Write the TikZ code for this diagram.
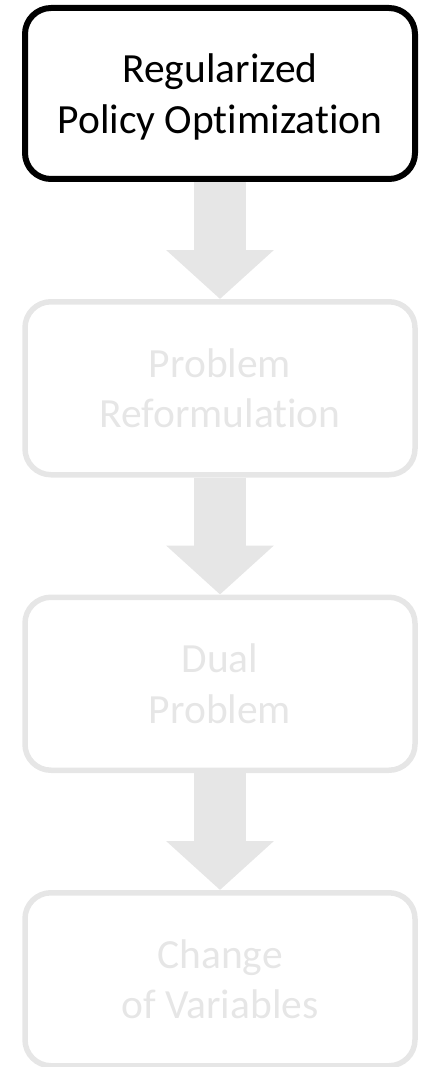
\documentclass[tikz,border=0pt]{standalone}
\usepackage{fontspec}
\setmainfont[Ligatures=NoCommon]{Carlito}
\usetikzlibrary{positioning,arrows.meta}
\definecolor{stagegray}{RGB}{230,230,230}
\tikzset{
  stage/.style={draw=stagegray, text=stagegray, line width=5.5pt, rounded corners=26pt,
    minimum width=390pt, minimum height=173pt, align=center, text depth=0pt,
    font=\fontsize{41.5}{50.5}\selectfont},
  current/.style={stage, draw=black, text=black, line width=6pt, minimum height=171pt},
  flow/.style={stagegray, line width=52pt, -{Triangle[width=105pt,length=49pt]}}
}
\begin{document}
\begin{tikzpicture}[x=1pt,y=1pt,node distance=117pt]
	\useasboundingbox (0,0) rectangle (429,-1067);

	% stages
	\node [current] (regpo) at (220,-93.5) {Regularized\\Policy Optimization};
	\node [stage, below=of regpo] (reform) {Problem\\Reformulation};
	\node [stage, below=of reform] (dual) {Dual\\Problem};
	\node [stage, below=of dual] (change) {Change\\of Variables};

	% arrows
	\draw [flow] (regpo.south) -- (reform.north);
	\draw [flow] (reform.south) -- (dual.north);
	\draw [flow] (dual.south) -- (change.north);
\end{tikzpicture}
\end{document}
